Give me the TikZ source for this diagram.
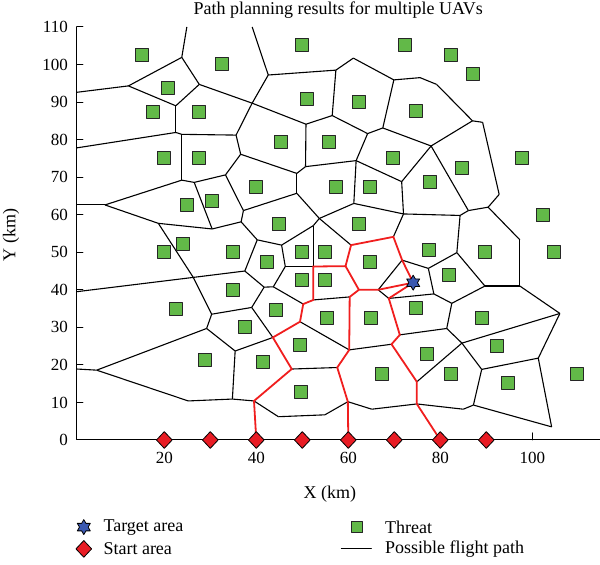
\documentclass[tikz,border=0pt]{standalone}
\usepackage{fontspec}
\setmainfont{Liberation Serif}
\usetikzlibrary{shapes.geometric,backgrounds}
\definecolor{threatgreen}{RGB}{98,185,72}
\definecolor{startred}{RGB}{232,28,36}
\definecolor{targetblue}{RGB}{58,88,176}
\definecolor{pathred}{RGB}{240,30,30}
\tikzset{
  threat/.style={draw=black!85,fill=threatgreen,line width=0.5pt,minimum size=6.5pt,inner sep=0pt},
  start/.style={diamond,draw=black,fill=startred,line width=0.4pt,minimum width=8pt,minimum height=8.5pt,inner sep=0pt},
  target/.style={star,star points=6,star point ratio=1.73,draw=black,fill=targetblue,line width=0.4pt,minimum size=7.5pt,inner sep=0pt},
  cell/.style={line width=0.55pt},
  route/.style={pathred,line width=0.9pt},
  ticklab/.style={inner sep=0pt,font=\fontsize{8.5}{10}\selectfont},
}
\begin{document}
\begin{tikzpicture}[line join=round,line cap=round,font=\fontsize{9}{11}\selectfont,x=2.3pt,y=1.8775pt]
\useasboundingbox (-15.72,-33.29) rectangle (114.72,117.18);
% title and axes
\node (title) at (57.8,114.5) {Path planning results for multiple UAVs};
\draw[line width=0.5pt] (1,110)--(1,0)--(114.7,0);
\foreach \y in {0,10,...,110}{
	\draw[line width=0.5pt] (1,\y)--(2.3,\y);
	\node[ticklab,anchor=east] (ly\y) at (-0.9,\y) {\y};
}
\foreach \x in {20,40,...,100}{
	\draw[line width=0.5pt] (\x,0)--(\x,1.9);
	\node[ticklab,anchor=base] (lx\x) at (\x,-6.2) {\x};
}
\node (xlab) at (56,-14.4) {X (km)};
\node[rotate=90] (ylab) at (-13.3,54.6) {Y (km)};
% threats
\foreach \x/\y [count=\i] in {15.2/102.5,32.5/100.1,49.9/105.2,72.3/105.2,82.3/102.5,87.1/97.5,
	20.8/93.7,17.5/87.4,27.5/87.4,51.0/90.8,62.3/90.0,74.7/87.6,45.4/79.4,55.8/79.4,
	19.9/75.1,27.5/75.1,69.7/75.1,97.8/75.1,84.7/72.4,39.9/67.4,57.3/67.4,64.7/67.4,
	77.8/68.7,30.4/63.6,24.9/62.6,44.9/57.5,62.3/57.5,102.3/59.9,24.1/52.2,19.9/50.1,
	34.9/50.1,42.3/47.4,49.9/50.1,54.9/50.1,64.7/47.4,77.5/50.6,89.7/50.1,104.7/50.1,
	34.9/39.9,49.9/42.6,54.9/42.6,81.9/43.9,22.5/34.9,44.3/34.6,37.5/30.1,49.5/25.3,
	55.4/32.5,64.9/32.5,74.7/35.2,89.1/32.5,92.3/25.0,28.8/21.3,41.5/20.8,49.7/12.8,
	67.3/17.6,77.1/22.9,82.3/17.6,94.7/15.2,109.7/17.6}{
	\node[threat] (t\i) at (\x,\y) {};
}
% start areas and target
\foreach \x in {20,30,...,90}{
	\node[start] (s\x) at (\x,0) {};
}
\node[target] (tgt) at (74.1,41.9) {};
% cell corners
\coordinate (top1) at (24.9,110); \coordinate (top2) at (39.1,110);
\coordinate (lft1) at (1,92.6); \coordinate (lft2) at (1,77.8); \coordinate (lft3) at (1,62.6);
\coordinate (lft4) at (1,39.5); \coordinate (lft5) at (1,18.9);
\coordinate (pB) at (23.8,101.9); \coordinate (pC) at (12.2,94.3); \coordinate (pD) at (27.6,94.7);
\coordinate (pE) at (22.5,89.0); \coordinate (pG) at (22.5,81.9); \coordinate (pH) at (23.8,81.4);
\coordinate (pI) at (35.6,81.2); \coordinate (pF) at (39.1,89.7); \coordinate (pK) at (42.6,97.2);
\coordinate (pL) at (36.6,76.1); \coordinate (pM) at (33.3,70.6); \coordinate (pJ) at (23.8,69.2);
\coordinate (pO) at (26.5,68.6); \coordinate (pQ) at (7.1,62.6); \coordinate (pN) at (48.8,71.0);
\coordinate (pAB) at (48.8,65.7); \coordinate (pP) at (37.2,61.1); \coordinate (pZ) at (50.8,84.1);
\coordinate (pT) at (57.3,98.5); \coordinate (pU) at (61.1,101.7); \coordinate (pW) at (69.9,95.9);
\coordinate (pW2) at (75.6,96.5); \coordinate (pW3) at (79.2,94.7); \coordinate (pW4) at (87.0,85.0);
\coordinate (pW5) at (89.2,84.6); \coordinate (pW6) at (92.8,65.4); \coordinate (pW7) at (90.4,62.0);
\coordinate (pW8) at (97.3,53.3); \coordinate (pBU) at (97.3,41.0); \coordinate (pBW) at (106.0,33.7);
\coordinate (pCF) at (101.3,21.8); \coordinate (pCG) at (104.2,3.5); \coordinate (pCH) at (87.2,9.3);
\coordinate (pCI) at (85.0,8.2); \coordinate (pAW) at (74.9,9.6); \coordinate (pCJ) at (65.1,8.2);
\coordinate (pAS) at (59.9,10.2); \coordinate (pBQ) at (54.9,6.7); \coordinate (pBP) at (44.8,6.2);
\coordinate (pAZ) at (39.5,10.4); \coordinate (pBN) at (34.8,10.9); \coordinate (pBO) at (25.2,10.4);
\coordinate (pQ2) at (5.3,18.6); \coordinate (pBL) at (29.2,29.7); \coordinate (pBM) at (35.4,23.7);
\coordinate (pBJ) at (30.3,33.5); \coordinate (pBK) at (39.0,35.3); \coordinate (pAX) at (43.6,27.3);
\coordinate (pAY) at (47.7,18.9); \coordinate (pAR) at (57.6,19.3); \coordinate (pAQ) at (60.2,24.0);
\coordinate (pAU) at (69.4,25.5); \coordinate (pAV) at (74.9,15.5); \coordinate (pAT) at (71.2,28.0);
\coordinate (pAO) at (68.8,37.7); \coordinate (pCA) at (78.6,38.9); \coordinate (pCB) at (82.5,36.4);
\coordinate (pCC) at (81.4,29.7); \coordinate (pCD) at (84.7,25.8); \coordinate (pCE) at (89.0,18.8);
\coordinate (pBV) at (89.7,41.0); \coordinate (pBX) at (83.6,49.9); \coordinate (pBY) at (77.4,45.7);
\coordinate (pBZ) at (71.7,47.9); \coordinate (pAN) at (66.5,40.0); \coordinate (pAM) at (62.3,40.0);
\coordinate (pAM2) at (60.3,38.1); \coordinate (pAK) at (59.4,46.3); \coordinate (pAI) at (60.6,51.9);
\coordinate (pAJ) at (69.8,54.1); \coordinate (pAG) at (72.0,60.2); \coordinate (pAD) at (61.2,63.0);
\coordinate (pAC) at (61.7,74.4); \coordinate (pAE) at (71.6,68.8); \coordinate (pBT) at (78.0,78.3);
\coordinate (pX) at (67.5,83.1); \coordinate (pY) at (64.2,81.6); \coordinate (pV) at (56.5,86.4);
\coordinate (pAA) at (50.7,72.8); \coordinate (pBR) at (84.3,59.8); \coordinate (pBS) at (86.1,61.1);
\coordinate (pAF) at (53.7,59.0); \coordinate (pAF2) at (52.4,57.1); \coordinate (pAH) at (52.4,46.2);
\coordinate (pAP) at (52.4,37.3); \coordinate (pBA) at (50.2,36.2); \coordinate (pBB) at (49.5,31.5);
\coordinate (pBH) at (46.3,46.2); \coordinate (pBF) at (45.5,51.9); \coordinate (pBD) at (40.2,53.3);
\coordinate (pBE) at (36.7,58.1); \coordinate (pR) at (30.4,56.2); \coordinate (pS) at (18.7,57.7);
\coordinate (pBC) at (26.3,43.3); \coordinate (pBG) at (37.5,45.0); \coordinate (pBI) at (41.7,40.7);
\coordinate (pBI2) at (43.7,40.8);
\begin{scope}[on background layer]
	% cells
	\foreach \a/\b in {top1/pB,pB/pC,pB/pD,pC/lft1,pC/pE,pD/pE,pD/pF,pE/pG,pG/lft2,pG/pH,pH/pI,pH/pJ,
		pI/pF,pI/pL,pF/pK,pK/top2,pF/pZ,pK/pT,pT/pU,pT/pV,pU/pW,pW/pW2,pW2/pW3,pW3/pW4,pW4/pW5,
		pW5/pW6,pW6/pW7,pW7/pW8,pW8/pBU,pBU/pBV,pBU/pBW,pBW/pCF,pCF/pCE,pCF/pCG,pCG/pCH,pCH/pCE,
		pCH/pCI,pCI/pAW,pAW/pCJ,pCJ/pAS,pAS/pBQ,pBQ/pBP,pBP/pAZ,pAZ/pBN,pBN/pBO,pBN/pBM,pBO/pQ2,
		pQ2/lft5,pQ2/pBL,pBL/pBJ,pBL/pBM,pBM/pAX,pBJ/pBC,pBJ/pBK,pBK/pAX,pBK/pBI,pBI/pBG,pBI/pBI2,
		pBI2/pBH,pBI2/pBA,pBG/pBC,pBG/pBD,pBC/pS,pBC/lft4,pS/pQ,pS/pR,pQ/lft3,pQ/pJ,pJ/pO,pO/pM,
		pO/pR,pR/pBE,pBE/pP,pBE/pBD,pBD/pBF,pBF/pBH,pBF/pAF2,pAF2/pAF,pAF2/pAH,pBH/pAH,pAF/pAB,
		pAF/pAD,pAF/pAI,pAB/pN,pAB/pP,pP/pM,pM/pL,pL/pN,pN/pAA,pAA/pZ,pAA/pAC,pZ/pV,pV/pY,pY/pX,
		pY/pAC,pX/pW,pX/pBT,pBT/pW4,pBT/pAE,pBT/pBS,pAC/pAD,pAC/pAE,pAE/pAG,pAD/pAG,pAG/pAJ,
		pAG/pBR,pBR/pBS,pBS/pW7,pBR/pBX,pBX/pBY,pBX/pBV,pBY/pBZ,pBY/pCA,pBZ/pAN,pAN/pAO,pAO/pCA,
		pCA/pCB,pCB/pBV,pCB/pCC,pCC/pAT,pCC/pCD,pCD/pBW,pCD/pCE,pCD/pAV,pAU/pAQ,pAP/pAM2,pBB/pAQ,
		pAR/pAY}{
		\draw[cell] (\a)--(\b);
	}
	% flight paths
	\draw[route] (s40.center)--(pAZ)--(pAY)--(pAX)--(pBB)--(pBA)--(pAP)--(pAH)--(pAK)--(pAI)--(pAJ)--(pBZ)--(tgt.center);
	\draw[route] (pAK)--(pAM)--(pAN)--(tgt.center);
	\draw[route] (pAM)--(pAM2)--(pAQ)--(pAR)--(pAS)--(s60.center);
	\draw[route] (s80.center)--(pAW)--(pAV)--(pAU)--(pAT)--(pAO)--(tgt.center);
\end{scope}
% legend
\node[target] (legtgt) at (2.5,-23.2) {};
\node[anchor=west,inner sep=0pt] (legtgttxt) at (6.7,-23.2) {Target area};
\node[start] (legstart) at (2.5,-29.0) {};
\node[anchor=west,inner sep=0pt] (legstarttxt) at (6.7,-29.0) {Start area};
\node[threat,minimum size=5.5pt] (legthreat) at (61.9,-23.2) {};
\node[anchor=west,inner sep=0pt] (legthreattxt) at (67.9,-23.2) {Threat};
\coordinate (legA) at (58.5,-29.0);
\coordinate (legB) at (65.0,-29.0);
\draw[line width=0.5pt] (legA)--(legB);
\node[anchor=west,inner sep=0pt] (legpathtxt) at (67.9,-29.0) {Possible flight path};
\end{tikzpicture}
\end{document}
